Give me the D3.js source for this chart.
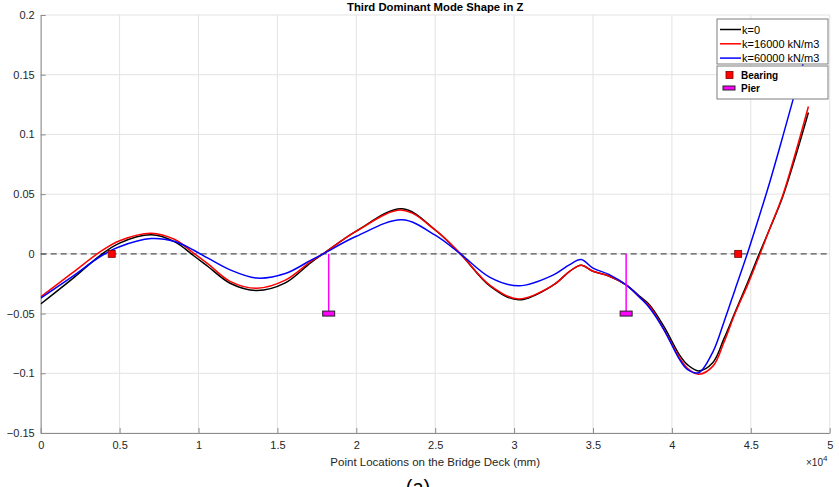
<!DOCTYPE html>
<html><head><meta charset="utf-8">
<script src="https://cdn.jsdelivr.net/npm/d3@7/dist/d3.min.js"></script>
<style>
body{margin:0;background:#fff;}
svg{display:block;font-family:"Liberation Sans",Arial,sans-serif;}
</style></head>
<body>
<svg id="chart" width="839" height="487"></svg>
<script>
// ---- data (mm, displacement) ----
const xPos = [0,2000,3800,5000,7000,8500,9700,10600,12000,13700,15500,17100,17900,20000,22900,25000,26600,28500,30300,32500,33500,34250,35000,36000,37100,38000,38600,39500,40500,41000,41700,42600,43300,44000,44800,45500,46200,47000,47800,48650];
const k0 = [-0.042,-0.021,-0.001,0.009,0.0159,0.010,-0.0016,-0.0106,-0.0246,-0.0307,-0.0243,-0.0075,0.0,0.019,0.0377,0.020,0.0,-0.0272,-0.0385,-0.026,-0.0148,-0.0095,-0.0146,-0.0185,-0.026,-0.036,-0.043,-0.061,-0.085,-0.093,-0.098,-0.091,-0.071,-0.049,-0.024,-0.001,0.021,0.047,0.080,0.1183];
const k16000 = [-0.036,-0.016,0.002,0.011,0.0173,0.012,0.0005,-0.0084,-0.023,-0.0288,-0.022,-0.0066,0.0,0.019,0.0366,0.020,0.0,-0.0266,-0.0377,-0.026,-0.0148,-0.0095,-0.0146,-0.0185,-0.026,-0.037,-0.044,-0.0636,-0.0873,-0.096,-0.1008,-0.094,-0.074,-0.05,-0.026,-0.003,0.021,0.048,0.083,0.1234];
const k60000 = [-0.037,-0.019,-0.002,0.006,0.0128,0.0103,0.003,-0.0036,-0.0134,-0.0203,-0.0165,-0.0055,0.0,0.0147,0.0285,0.0156,0.0,-0.0199,-0.0268,-0.0176,-0.0092,-0.0048,-0.012,-0.0172,-0.026,-0.037,-0.0455,-0.0636,-0.0888,-0.097,-0.0995,-0.082,-0.057,-0.030,0.001,0.030,0.060,0.097,0.135,0.175];
const bearingX = [4500,44200];
const bearingY = [0,0];
const pierX = [18250,37100];
const pierY = [-0.05,-0.05];
const seriesNames = ["k=0","k=16000 kN/m3","k=60000 kN/m3"];
const seriesColors = ["#000000","#ff0000","#0000ff"];
const xTicks = [0,5000,10000,15000,20000,25000,30000,35000,40000,45000,50000];
const yTicks = [-0.15,-0.1,-0.05,0,0.05,0.1,0.15,0.2];

const svg = d3.select("#chart");
const L=40.7,R=829.7,T=15,B=433;
const x = d3.scaleLinear().domain([0,50000]).range([L,R]);
const y = d3.scaleLinear().domain([-0.15,0.2]).range([B,T]);
const txt="#262626", axc="#8c8c8c", grid="#e3e3e3";

svg.append("defs").append("clipPath").attr("id","clip")
  .append("rect").attr("x",L).attr("y",T).attr("width",R-L).attr("height",B-T);

// grid
const g = svg.append("g");
g.selectAll(".gx").data(xTicks).join("line")
  .attr("x1",d=>x(d)).attr("x2",d=>x(d)).attr("y1",T).attr("y2",B)
  .attr("stroke",grid).attr("stroke-width",1);
g.selectAll(".gy").data(yTicks).join("line")
  .attr("x1",L).attr("x2",R).attr("y1",d=>y(d)).attr("y2",d=>y(d))
  .attr("stroke",grid).attr("stroke-width",1);

// axes (ticks inward)
const xAxis = d3.axisBottom(x).tickValues(xTicks).tickSizeInner(-5).tickSizeOuter(0).tickPadding(8)
  .tickFormat(d=>d3.format("~g")(d/1e4));
const gx = svg.append("g").attr("transform",`translate(0,${B})`).call(xAxis);
const yAxis = d3.axisLeft(y).tickValues(yTicks).tickSizeInner(-5).tickSizeOuter(0).tickPadding(6)
  .tickFormat(d=>d3.format("~g")(d));
const gy = svg.append("g").attr("transform",`translate(${L},0)`).call(yAxis);
[gx,gy].forEach(a=>{
  a.select(".domain").attr("stroke",axc);
  a.selectAll(".tick line").attr("stroke",axc);
  a.selectAll(".tick text").attr("fill",txt).style("font-size","11px").style("font-family","'Liberation Sans',Arial,sans-serif");
});

// zero dashed line
svg.append("line").attr("x1",L).attr("x2",R).attr("y1",y(0)).attr("y2",y(0))
  .attr("stroke","#555").attr("stroke-width",1.1).attr("stroke-dasharray","6,4");

// curves
const line = d3.line().x(d=>x(d[0])).y(d=>y(d[1])).curve(d3.curveCatmullRom.alpha(0.5));
const plot = svg.append("g").attr("clip-path","url(#clip)");
[k0,k16000,k60000].forEach((vals,i)=>{
  plot.append("path").datum(xPos.map((xv,j)=>[xv,vals[j]]))
    .attr("d",line).attr("fill","none").attr("stroke",seriesColors[i]).attr("stroke-width",1.5);
});

// piers
pierX.forEach((px,i)=>{
  svg.append("line").attr("x1",x(px)).attr("x2",x(px)).attr("y1",y(0)).attr("y2",y(pierY[i]))
    .attr("stroke","#ff00ff").attr("stroke-width",1.5);
  svg.append("rect").attr("x",x(px)-6).attr("y",y(pierY[i])-2.5).attr("width",12).attr("height",5)
    .attr("fill","#ff00ff").attr("stroke","#222").attr("stroke-width",1);
});
// bearings
bearingX.forEach((bx,i)=>{
  svg.append("rect").attr("x",x(bx)-3.5).attr("y",y(bearingY[i])-3.5).attr("width",7).attr("height",7)
    .attr("fill","#ff0000").attr("stroke","#7a0000").attr("stroke-width",0.8);
});

// title and labels
svg.append("text").attr("x",(L+R)/2).attr("y",11).attr("text-anchor","middle")
  .attr("font-weight","bold").attr("font-size","11.3px").attr("fill","#000").text("Third Dominant Mode Shape in Z");
svg.append("text").attr("x",(L+R)/2).attr("y",466).attr("text-anchor","middle")
  .attr("font-size","11.5px").attr("fill",txt).text("Point Locations on the Bridge Deck (mm)");
const ex = svg.append("text").attr("x",806).attr("y",466).attr("font-size","10px").attr("fill",txt);
ex.append("tspan").text("\u00d710");
ex.append("tspan").attr("dy",-5).attr("font-size","8px").text("4");
svg.append("text").attr("x",418).attr("y",494).attr("text-anchor","middle")
  .attr("font-size","20px").attr("fill","#000").text("(a)");

// legend 1
const lg = svg.append("g");
lg.append("rect").attr("x",717).attr("y",19).attr("width",111).attr("height",45)
  .attr("fill","#fff").attr("stroke","#7f7f7f").attr("stroke-width",1);
seriesNames.forEach((n,i)=>{
  const yy = 29.5+i*14.3;
  lg.append("line").attr("x1",720).attr("x2",741).attr("y1",yy).attr("y2",yy)
    .attr("stroke",seriesColors[i]).attr("stroke-width",1.5);
  lg.append("text").attr("x",742).attr("y",yy+4).attr("font-size","11px").attr("fill","#000").text(n);
});
// legend 2
lg.append("rect").attr("x",717).attr("y",66).attr("width",111).attr("height",33)
  .attr("fill","#fff").attr("stroke","#7f7f7f").attr("stroke-width",1);
lg.append("rect").attr("x",726).attr("y",71.5).attr("width",7).attr("height",7)
  .attr("fill","#ff0000").attr("stroke","#7a0000").attr("stroke-width",0.8);
lg.append("text").attr("x",741).attr("y",79).attr("font-size","10px").attr("font-weight","bold").attr("fill","#000").text("Bearing");
lg.append("rect").attr("x",723).attr("y",86).attr("width",12).attr("height",4)
  .attr("fill","#ff00ff").attr("stroke","#222").attr("stroke-width",1);
lg.append("text").attr("x",741).attr("y",91.5).attr("font-size","10px").attr("font-weight","bold").attr("fill","#000").text("Pier");
</script>
</body></html>
